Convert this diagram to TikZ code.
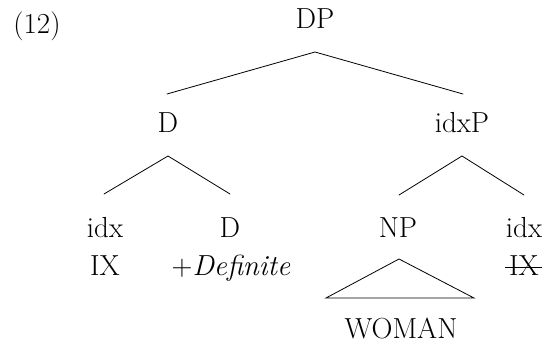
\documentclass[tikz,border=0pt]{standalone}
\usepackage{fontspec}
\begin{document}
\begin{tikzpicture}[x=1pt,y=-1pt,
  lab/.style={inner sep=0pt,anchor=base,font=\fontsize{29}{34}\selectfont},
  branch/.style={line width=0.8pt,line cap=round}]
\useasboundingbox (0,0) rectangle (547,345);
% labels
\node[lab] (ex) at (37,34) {(12)};
\node[lab] (DP) at (315,29) {DP};
\node[lab] (D1) at (168,132) {D};
\node[lab] (idxP) at (462,132) {idxP};
\node[lab] (idx1) at (105,237) {idx};
\node[lab] (IX1) at (105,275) {IX};
\node[lab] (D2) at (230,237) {D};
\node[lab] (def) at (231,275) {+\textit{Definite}};
\node[lab] (NP) at (398,237) {NP};
\node[lab] (idx2) at (524,237) {idx};
\node[lab] (IX2) at (524,275) {IX};
\node[lab] (woman) at (401,338) {WOMAN};
% branch points
\coordinate (DPb) at (315,52);
\coordinate (D1t) at (167,94);
\coordinate (idxPt) at (463,94);
\coordinate (D1b) at (168,156);
\coordinate (idx1t) at (104,194);
\coordinate (D2t) at (230,194);
\coordinate (idxPb) at (462,156);
\coordinate (NPt) at (399,195);
\coordinate (idx2t) at (524,195);
\coordinate (NPb) at (399,259);
\coordinate (triL) at (326,298);
\coordinate (triR) at (474,298);
\coordinate (sL) at (505,267);
\coordinate (sR) at (542,267);
% branches
\draw[branch] (D1t) -- (DPb) -- (idxPt);
\draw[branch] (idx1t) -- (D1b) -- (D2t);
\draw[branch] (NPt) -- (idxPb) -- (idx2t);
\draw[branch,line join=miter] (NPb) -- (triL) -- (triR) -- cycle;
\draw[line width=0.8pt] (sL) -- (sR);
\end{tikzpicture}
\end{document}
